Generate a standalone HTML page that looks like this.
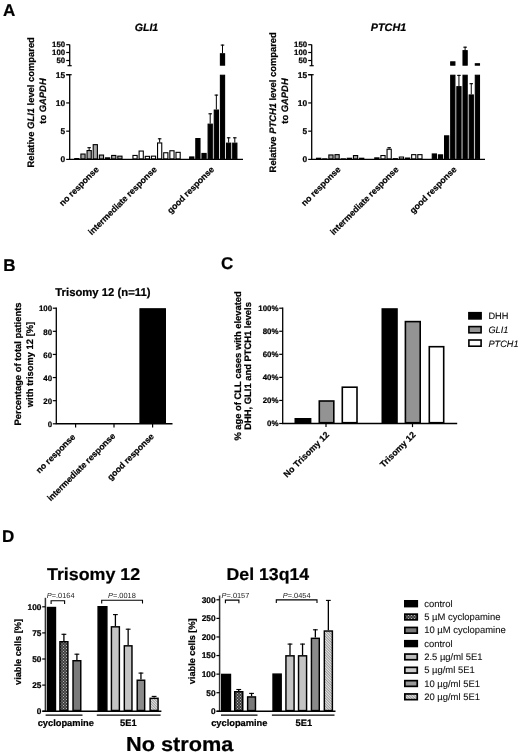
<!DOCTYPE html>
<html><head><meta charset="utf-8"><style>
html,body{margin:0;padding:0;background:#fff;}
svg{display:block;font-family:"Liberation Sans", sans-serif;filter:grayscale(1);text-rendering:geometricPrecision;}
text[font-weight=bold]{stroke:#000;stroke-width:0.22px;}
text[font-weight=normal]{stroke:#111;stroke-width:0.1px;}
</style></head><body>
<svg width="520" height="755" viewBox="0 0 520 755">
<rect width="520" height="755" fill="#fff"/>
<text x="3.0" y="15.6" font-size="17" font-weight="bold" font-style="normal" text-anchor="start" fill="#000">A</text>
<text x="3.2" y="271.0" font-size="17" font-weight="bold" font-style="normal" text-anchor="start" fill="#000">B</text>
<text x="221.0" y="268.6" font-size="17" font-weight="bold" font-style="normal" text-anchor="start" fill="#000">C</text>
<text x="2.0" y="541.6" font-size="17" font-weight="bold" font-style="normal" text-anchor="start" fill="#000">D</text>
<text x="146.5" y="31.3" font-size="10.6" font-weight="bold" font-style="italic" text-anchor="middle" fill="#000">GLI1</text>
<text x="34.1" y="102.3" font-size="9.4" font-weight="bold" text-anchor="middle" transform="rotate(-90 34.1 102.3)">Relative <tspan font-style="italic">GLI1</tspan> level compared</text>
<text x="46.2" y="101.0" font-size="9.4" font-weight="bold" text-anchor="middle" transform="rotate(-90 46.2 101.0)">to <tspan font-style="italic">GAPDH</tspan></text>
<line x1="69.7" y1="44.4" x2="69.7" y2="65.7" stroke="#000" stroke-width="1.3"/>
<line x1="67.5" y1="65.7" x2="71.7" y2="65.7" stroke="#000" stroke-width="1.2"/>
<line x1="69.7" y1="74.7" x2="69.7" y2="159.4" stroke="#000" stroke-width="1.3"/>
<line x1="66.2" y1="74.7" x2="71.7" y2="74.7" stroke="#000" stroke-width="1.2"/>
<line x1="69.10000000000001" y1="159.4" x2="243" y2="159.4" stroke="#000" stroke-width="1.4"/>
<line x1="66.2" y1="159.4" x2="69.7" y2="159.4" stroke="#000" stroke-width="1.2"/>
<text x="65.10000000000001" y="162.3" font-size="8.4" font-weight="bold" font-style="normal" text-anchor="end" fill="#000">0</text>
<line x1="66.2" y1="131.16666666666669" x2="69.7" y2="131.16666666666669" stroke="#000" stroke-width="1.2"/>
<text x="65.10000000000001" y="134.0666666666667" font-size="8.4" font-weight="bold" font-style="normal" text-anchor="end" fill="#000">5</text>
<line x1="66.2" y1="102.93333333333334" x2="69.7" y2="102.93333333333334" stroke="#000" stroke-width="1.2"/>
<text x="65.10000000000001" y="105.83333333333334" font-size="8.4" font-weight="bold" font-style="normal" text-anchor="end" fill="#000">10</text>
<line x1="66.2" y1="74.7" x2="69.7" y2="74.7" stroke="#000" stroke-width="1.2"/>
<text x="65.10000000000001" y="77.60000000000001" font-size="8.4" font-weight="bold" font-style="normal" text-anchor="end" fill="#000">15</text>
<line x1="66.2" y1="44.699999999999996" x2="69.7" y2="44.699999999999996" stroke="#000" stroke-width="1.2"/>
<text x="65.10000000000001" y="47.4" font-size="7.8" font-weight="bold" font-style="normal" text-anchor="end" fill="#000">150</text>
<line x1="66.2" y1="52.5" x2="69.7" y2="52.5" stroke="#000" stroke-width="1.2"/>
<text x="65.10000000000001" y="55.2" font-size="7.8" font-weight="bold" font-style="normal" text-anchor="end" fill="#000">100</text>
<line x1="66.2" y1="60.5" x2="69.7" y2="60.5" stroke="#000" stroke-width="1.2"/>
<text x="65.10000000000001" y="63.2" font-size="7.8" font-weight="bold" font-style="normal" text-anchor="end" fill="#000">50</text>
<rect x="74.75" y="158.55" width="4.20" height="0.30" fill="#a8a8a8" stroke="#000" stroke-width="1.1"/>
<rect x="80.90" y="154.05" width="4.20" height="4.80" fill="#a8a8a8" stroke="#000" stroke-width="1.1"/>
<rect x="87.05" y="150.55" width="4.20" height="8.30" fill="#a8a8a8" stroke="#000" stroke-width="1.1"/>
<line x1="89.15" y1="150" x2="89.15" y2="147.2" stroke="#000" stroke-width="1.0"/>
<line x1="87.4" y1="147.7" x2="90.9" y2="147.7" stroke="#000" stroke-width="1.1"/>
<rect x="93.20" y="144.65" width="4.20" height="14.20" fill="#a8a8a8" stroke="#000" stroke-width="1.1"/>
<rect x="99.35" y="155.05" width="4.20" height="3.80" fill="#a8a8a8" stroke="#000" stroke-width="1.1"/>
<rect x="105.50" y="157.85" width="4.20" height="1.00" fill="#a8a8a8" stroke="#000" stroke-width="1.1"/>
<rect x="111.65" y="155.45" width="4.20" height="3.40" fill="#a8a8a8" stroke="#000" stroke-width="1.1"/>
<rect x="117.80" y="156.15" width="4.20" height="2.70" fill="#a8a8a8" stroke="#000" stroke-width="1.1"/>
<rect x="132.95" y="155.45" width="4.20" height="3.40" fill="#fff" stroke="#000" stroke-width="1.1"/>
<rect x="139.10" y="151.05" width="4.20" height="7.80" fill="#fff" stroke="#000" stroke-width="1.1"/>
<rect x="145.25" y="156.35" width="4.20" height="2.50" fill="#fff" stroke="#000" stroke-width="1.1"/>
<rect x="151.40" y="156.15" width="4.20" height="2.70" fill="#fff" stroke="#000" stroke-width="1.1"/>
<rect x="157.55" y="142.95" width="4.20" height="15.90" fill="#fff" stroke="#000" stroke-width="1.1"/>
<line x1="159.65" y1="142.4" x2="159.65" y2="138.3" stroke="#000" stroke-width="1.0"/>
<line x1="157.9" y1="138.8" x2="161.4" y2="138.8" stroke="#000" stroke-width="1.1"/>
<rect x="163.70" y="152.75" width="4.20" height="6.10" fill="#fff" stroke="#000" stroke-width="1.1"/>
<rect x="169.85" y="150.75" width="4.20" height="8.10" fill="#fff" stroke="#000" stroke-width="1.1"/>
<rect x="176.00" y="152.35" width="4.20" height="6.50" fill="#fff" stroke="#000" stroke-width="1.1"/>
<rect x="189.65" y="156.95" width="4.20" height="1.90" fill="#000" stroke="#000" stroke-width="1.1"/>
<rect x="195.80" y="138.55" width="4.20" height="20.30" fill="#000" stroke="#000" stroke-width="1.1"/>
<rect x="201.95" y="153.45" width="4.20" height="5.40" fill="#000" stroke="#000" stroke-width="1.1"/>
<rect x="208.10" y="124.15" width="4.20" height="34.70" fill="#000" stroke="#000" stroke-width="1.1"/>
<line x1="210.20000000000002" y1="123.6" x2="210.20000000000002" y2="113.3" stroke="#000" stroke-width="1.0"/>
<line x1="208.45000000000002" y1="113.8" x2="211.95000000000002" y2="113.8" stroke="#000" stroke-width="1.1"/>
<rect x="214.25" y="110.05" width="4.20" height="48.80" fill="#000" stroke="#000" stroke-width="1.1"/>
<line x1="216.35" y1="109.5" x2="216.35" y2="94.6" stroke="#000" stroke-width="1.0"/>
<line x1="214.6" y1="95.1" x2="218.1" y2="95.1" stroke="#000" stroke-width="1.1"/>
<rect x="220.40" y="75.25" width="4.20" height="83.60" fill="#000" stroke="#000" stroke-width="1.1"/>
<rect x="220.40" y="53.75" width="4.20" height="11.40" fill="#000" stroke="#000" stroke-width="1.1"/>
<line x1="222.5" y1="53.2" x2="222.5" y2="44.6" stroke="#000" stroke-width="1.0"/>
<line x1="220.75" y1="45.1" x2="224.25" y2="45.1" stroke="#000" stroke-width="1.1"/>
<rect x="226.55" y="143.15" width="4.20" height="15.70" fill="#000" stroke="#000" stroke-width="1.1"/>
<line x1="228.65" y1="142.6" x2="228.65" y2="137.3" stroke="#000" stroke-width="1.0"/>
<line x1="226.9" y1="137.8" x2="230.4" y2="137.8" stroke="#000" stroke-width="1.1"/>
<rect x="232.70" y="143.15" width="4.20" height="15.70" fill="#000" stroke="#000" stroke-width="1.1"/>
<line x1="234.8" y1="142.6" x2="234.8" y2="137.3" stroke="#000" stroke-width="1.0"/>
<line x1="233.05" y1="137.8" x2="236.55" y2="137.8" stroke="#000" stroke-width="1.1"/>
<text x="388.5" y="31.3" font-size="10.8" font-weight="bold" font-style="italic" text-anchor="middle" fill="#000">PTCH1</text>
<text x="276.5" y="102.3" font-size="9.4" font-weight="bold" text-anchor="middle" transform="rotate(-90 276.5 102.3)">Relative <tspan font-style="italic">PTCH1</tspan> level compared</text>
<text x="288.0" y="101.0" font-size="9.4" font-weight="bold" text-anchor="middle" transform="rotate(-90 288.0 101.0)">to <tspan font-style="italic">GAPDH</tspan></text>
<line x1="311.7" y1="44.4" x2="311.7" y2="65.7" stroke="#000" stroke-width="1.3"/>
<line x1="309.5" y1="65.7" x2="313.7" y2="65.7" stroke="#000" stroke-width="1.2"/>
<line x1="311.7" y1="74.7" x2="311.7" y2="159.4" stroke="#000" stroke-width="1.3"/>
<line x1="308.2" y1="74.7" x2="313.7" y2="74.7" stroke="#000" stroke-width="1.2"/>
<line x1="311.09999999999997" y1="159.4" x2="485" y2="159.4" stroke="#000" stroke-width="1.4"/>
<line x1="308.2" y1="159.4" x2="311.7" y2="159.4" stroke="#000" stroke-width="1.2"/>
<text x="307.09999999999997" y="162.3" font-size="8.4" font-weight="bold" font-style="normal" text-anchor="end" fill="#000">0</text>
<line x1="308.2" y1="131.16666666666669" x2="311.7" y2="131.16666666666669" stroke="#000" stroke-width="1.2"/>
<text x="307.09999999999997" y="134.0666666666667" font-size="8.4" font-weight="bold" font-style="normal" text-anchor="end" fill="#000">5</text>
<line x1="308.2" y1="102.93333333333334" x2="311.7" y2="102.93333333333334" stroke="#000" stroke-width="1.2"/>
<text x="307.09999999999997" y="105.83333333333334" font-size="8.4" font-weight="bold" font-style="normal" text-anchor="end" fill="#000">10</text>
<line x1="308.2" y1="74.7" x2="311.7" y2="74.7" stroke="#000" stroke-width="1.2"/>
<text x="307.09999999999997" y="77.60000000000001" font-size="8.4" font-weight="bold" font-style="normal" text-anchor="end" fill="#000">15</text>
<line x1="308.2" y1="44.699999999999996" x2="311.7" y2="44.699999999999996" stroke="#000" stroke-width="1.2"/>
<text x="307.09999999999997" y="47.4" font-size="7.8" font-weight="bold" font-style="normal" text-anchor="end" fill="#000">150</text>
<line x1="308.2" y1="52.5" x2="311.7" y2="52.5" stroke="#000" stroke-width="1.2"/>
<text x="307.09999999999997" y="55.2" font-size="7.8" font-weight="bold" font-style="normal" text-anchor="end" fill="#000">100</text>
<line x1="308.2" y1="60.5" x2="311.7" y2="60.5" stroke="#000" stroke-width="1.2"/>
<text x="307.09999999999997" y="63.2" font-size="7.8" font-weight="bold" font-style="normal" text-anchor="end" fill="#000">50</text>
<rect x="316.55" y="158.25" width="4.20" height="0.60" fill="#a8a8a8" stroke="#000" stroke-width="1.1"/>
<rect x="322.70" y="158.85" width="4.20" height="0.10" fill="#a8a8a8" stroke="#000" stroke-width="1.1"/>
<rect x="328.85" y="154.95" width="4.20" height="3.90" fill="#a8a8a8" stroke="#000" stroke-width="1.1"/>
<rect x="335.00" y="154.65" width="4.20" height="4.20" fill="#a8a8a8" stroke="#000" stroke-width="1.1"/>
<rect x="341.15" y="158.85" width="4.20" height="0.10" fill="#a8a8a8" stroke="#000" stroke-width="1.1"/>
<rect x="347.30" y="158.25" width="4.20" height="0.60" fill="#a8a8a8" stroke="#000" stroke-width="1.1"/>
<rect x="353.45" y="155.55" width="4.20" height="3.30" fill="#a8a8a8" stroke="#000" stroke-width="1.1"/>
<rect x="359.60" y="158.25" width="4.20" height="0.60" fill="#a8a8a8" stroke="#000" stroke-width="1.1"/>
<rect x="374.75" y="157.85" width="4.20" height="1.00" fill="#fff" stroke="#000" stroke-width="1.1"/>
<rect x="380.90" y="155.55" width="4.20" height="3.30" fill="#fff" stroke="#000" stroke-width="1.1"/>
<rect x="387.05" y="149.25" width="4.20" height="9.60" fill="#fff" stroke="#000" stroke-width="1.1"/>
<line x1="389.15" y1="148.7" x2="389.15" y2="147.2" stroke="#000" stroke-width="1.0"/>
<line x1="387.4" y1="147.7" x2="390.9" y2="147.7" stroke="#000" stroke-width="1.1"/>
<rect x="393.20" y="158.65" width="4.20" height="0.20" fill="#fff" stroke="#000" stroke-width="1.1"/>
<rect x="399.35" y="157.05" width="4.20" height="1.80" fill="#fff" stroke="#000" stroke-width="1.1"/>
<rect x="405.50" y="158.05" width="4.20" height="0.80" fill="#fff" stroke="#000" stroke-width="1.1"/>
<rect x="411.65" y="154.65" width="4.20" height="4.20" fill="#fff" stroke="#000" stroke-width="1.1"/>
<rect x="417.80" y="154.65" width="4.20" height="4.20" fill="#fff" stroke="#000" stroke-width="1.1"/>
<rect x="432.25" y="153.95" width="4.20" height="4.90" fill="#000" stroke="#000" stroke-width="1.1"/>
<rect x="438.40" y="154.85" width="4.20" height="4.00" fill="#000" stroke="#000" stroke-width="1.1"/>
<rect x="444.55" y="135.85" width="4.20" height="23.00" fill="#000" stroke="#000" stroke-width="1.1"/>
<rect x="450.70" y="75.25" width="4.20" height="83.60" fill="#000" stroke="#000" stroke-width="1.1"/>
<rect x="450.70" y="61.85" width="4.20" height="3.30" fill="#000" stroke="#000" stroke-width="1.1"/>
<rect x="456.85" y="86.65" width="4.20" height="72.20" fill="#000" stroke="#000" stroke-width="1.1"/>
<line x1="458.95" y1="86.1" x2="458.95" y2="74.9" stroke="#000" stroke-width="1.0"/>
<line x1="457.2" y1="75.4" x2="460.7" y2="75.4" stroke="#000" stroke-width="1.1"/>
<rect x="463.00" y="75.25" width="4.20" height="83.60" fill="#000" stroke="#000" stroke-width="1.1"/>
<rect x="463.00" y="50.65" width="4.20" height="14.50" fill="#000" stroke="#000" stroke-width="1.1"/>
<line x1="465.09999999999997" y1="50.1" x2="465.09999999999997" y2="46.7" stroke="#000" stroke-width="1.0"/>
<line x1="463.34999999999997" y1="47.2" x2="466.84999999999997" y2="47.2" stroke="#000" stroke-width="1.1"/>
<rect x="469.15" y="94.95" width="4.20" height="63.90" fill="#000" stroke="#000" stroke-width="1.1"/>
<line x1="471.25" y1="94.4" x2="471.25" y2="83.2" stroke="#000" stroke-width="1.0"/>
<line x1="469.5" y1="83.7" x2="473.0" y2="83.7" stroke="#000" stroke-width="1.1"/>
<rect x="475.30" y="75.25" width="4.20" height="83.60" fill="#000" stroke="#000" stroke-width="1.1"/>
<rect x="475.30" y="63.75" width="4.20" height="1.40" fill="#000" stroke="#000" stroke-width="1.1"/>
<text x="99.4" y="170.0" font-size="8.7" font-weight="bold" text-anchor="end" transform="rotate(-45 99.4 170.0)">no response</text>
<text x="157.3" y="170.0" font-size="8.7" font-weight="bold" text-anchor="end" transform="rotate(-45 157.3 170.0)">intermediate response</text>
<text x="214.7" y="170.0" font-size="8.7" font-weight="bold" text-anchor="end" transform="rotate(-45 214.7 170.0)">good response</text>
<text x="341.2" y="170.0" font-size="8.7" font-weight="bold" text-anchor="end" transform="rotate(-45 341.2 170.0)">no response</text>
<text x="399.2" y="170.0" font-size="8.7" font-weight="bold" text-anchor="end" transform="rotate(-45 399.2 170.0)">intermediate response</text>
<text x="457.2" y="170.0" font-size="8.7" font-weight="bold" text-anchor="end" transform="rotate(-45 457.2 170.0)">good response</text>
<text x="102.9" y="295.7" font-size="11.3" font-weight="bold" font-style="normal" text-anchor="middle" fill="#000">Trisomy 12 (n=11)</text>
<text x="21.3" y="364" font-size="9.4" font-weight="bold" text-anchor="middle" transform="rotate(-90 21.3 364)">Percentage of total patients</text>
<text x="32.8" y="364.5" font-size="9.4" font-weight="bold" text-anchor="middle" transform="rotate(-90 32.8 364.5)">with trisomy 12 [%]</text>
<line x1="56.3" y1="307.59999999999997" x2="56.3" y2="423.8" stroke="#000" stroke-width="1.3"/>
<line x1="55.699999999999996" y1="423.8" x2="172.5" y2="423.8" stroke="#000" stroke-width="1.4"/>
<line x1="52.8" y1="423.8" x2="56.3" y2="423.8" stroke="#000" stroke-width="1.2"/>
<text x="52.099999999999994" y="427.0" font-size="7.9" font-weight="bold" font-style="normal" text-anchor="end" fill="#000">0</text>
<line x1="52.8" y1="400.68" x2="56.3" y2="400.68" stroke="#000" stroke-width="1.2"/>
<text x="52.099999999999994" y="403.88" font-size="7.9" font-weight="bold" font-style="normal" text-anchor="end" fill="#000">20</text>
<line x1="52.8" y1="377.56" x2="56.3" y2="377.56" stroke="#000" stroke-width="1.2"/>
<text x="52.099999999999994" y="380.76" font-size="7.9" font-weight="bold" font-style="normal" text-anchor="end" fill="#000">40</text>
<line x1="52.8" y1="354.44" x2="56.3" y2="354.44" stroke="#000" stroke-width="1.2"/>
<text x="52.099999999999994" y="357.64" font-size="7.9" font-weight="bold" font-style="normal" text-anchor="end" fill="#000">60</text>
<line x1="52.8" y1="331.32" x2="56.3" y2="331.32" stroke="#000" stroke-width="1.2"/>
<text x="52.099999999999994" y="334.52" font-size="7.9" font-weight="bold" font-style="normal" text-anchor="end" fill="#000">80</text>
<line x1="52.8" y1="308.2" x2="56.3" y2="308.2" stroke="#000" stroke-width="1.2"/>
<text x="52.099999999999994" y="311.4" font-size="7.9" font-weight="bold" font-style="normal" text-anchor="end" fill="#000">100</text>
<line x1="75.6" y1="423.8" x2="75.6" y2="427.40000000000003" stroke="#000" stroke-width="1.2"/>
<line x1="114.0" y1="423.8" x2="114.0" y2="427.40000000000003" stroke="#000" stroke-width="1.2"/>
<line x1="152.6" y1="423.8" x2="152.6" y2="427.40000000000003" stroke="#000" stroke-width="1.2"/>
<rect x="139.95" y="308.75" width="25.50" height="114.50" fill="#000" stroke="#000" stroke-width="1.1"/>
<text x="75.9" y="437.5" font-size="8.65" font-weight="bold" text-anchor="end" transform="rotate(-45 75.9 437.5)">no response</text>
<text x="115.9" y="436.5" font-size="8.65" font-weight="bold" text-anchor="end" transform="rotate(-45 115.9 436.5)">intermediate response</text>
<text x="154.5" y="437.0" font-size="8.65" font-weight="bold" text-anchor="end" transform="rotate(-45 154.5 437.0)">good response</text>
<text x="241.3" y="365.9" font-size="9.4" font-weight="bold" text-anchor="middle" transform="rotate(-90 241.3 365.9)">% age of CLL cases with elevated</text>
<text x="250.8" y="365.9" font-size="9.4" font-weight="bold" text-anchor="middle" transform="rotate(-90 250.8 365.9)">DHH, GLI1 and PTCH1 levels</text>
<line x1="282.7" y1="307.59999999999997" x2="282.7" y2="423.5" stroke="#000" stroke-width="1.3"/>
<line x1="282.09999999999997" y1="423.5" x2="457.2" y2="423.5" stroke="#000" stroke-width="1.4"/>
<line x1="279.2" y1="423.5" x2="282.7" y2="423.5" stroke="#000" stroke-width="1.2"/>
<text x="278.5" y="426.3" font-size="7.9" font-weight="bold" font-style="normal" text-anchor="end" fill="#000">0%</text>
<line x1="279.2" y1="400.44" x2="282.7" y2="400.44" stroke="#000" stroke-width="1.2"/>
<text x="278.5" y="403.24" font-size="7.9" font-weight="bold" font-style="normal" text-anchor="end" fill="#000">20%</text>
<line x1="279.2" y1="377.38" x2="282.7" y2="377.38" stroke="#000" stroke-width="1.2"/>
<text x="278.5" y="380.18" font-size="7.9" font-weight="bold" font-style="normal" text-anchor="end" fill="#000">40%</text>
<line x1="279.2" y1="354.32" x2="282.7" y2="354.32" stroke="#000" stroke-width="1.2"/>
<text x="278.5" y="357.12" font-size="7.9" font-weight="bold" font-style="normal" text-anchor="end" fill="#000">60%</text>
<line x1="279.2" y1="331.26" x2="282.7" y2="331.26" stroke="#000" stroke-width="1.2"/>
<text x="278.5" y="334.06" font-size="7.9" font-weight="bold" font-style="normal" text-anchor="end" fill="#000">80%</text>
<line x1="279.2" y1="308.2" x2="282.7" y2="308.2" stroke="#000" stroke-width="1.2"/>
<text x="278.5" y="311.0" font-size="7.9" font-weight="bold" font-style="normal" text-anchor="end" fill="#000">100%</text>
<line x1="326.0" y1="423.5" x2="326.0" y2="427.1" stroke="#000" stroke-width="1.2"/>
<line x1="412.5" y1="423.5" x2="412.5" y2="427.1" stroke="#000" stroke-width="1.2"/>
<rect x="295.30" y="418.80" width="15.30" height="3.90" fill="#000" stroke="#000" stroke-width="1.6"/>
<rect x="319.30" y="401.00" width="14.50" height="21.70" fill="#939393" stroke="#000" stroke-width="1.6"/>
<rect x="342.30" y="387.20" width="14.70" height="35.50" fill="#fff" stroke="#000" stroke-width="1.6"/>
<rect x="382.30" y="309.00" width="14.70" height="113.70" fill="#000" stroke="#000" stroke-width="1.6"/>
<rect x="405.40" y="321.60" width="14.80" height="101.10" fill="#939393" stroke="#000" stroke-width="1.6"/>
<rect x="429.30" y="346.70" width="14.40" height="76.00" fill="#fff" stroke="#000" stroke-width="1.6"/>
<rect x="468.90" y="312.70" width="12.20" height="6.20" fill="#000" stroke="#000" stroke-width="1.6"/>
<text x="488.4" y="319.2" font-size="9.2" font-weight="normal" font-style="normal" text-anchor="start" fill="#000">DHH</text>
<rect x="468.90" y="326.60" width="12.20" height="6.20" fill="#939393" stroke="#000" stroke-width="1.6"/>
<text x="488.4" y="333.1" font-size="9.2" font-weight="normal" font-style="italic" text-anchor="start" fill="#000">GLI1</text>
<rect x="468.90" y="340.00" width="12.20" height="6.20" fill="#fff" stroke="#000" stroke-width="1.6"/>
<text x="488.4" y="346.5" font-size="9.2" font-weight="normal" font-style="italic" text-anchor="start" fill="#000">PTCH1</text>
<text x="329.6" y="435.4" font-size="8.8" font-weight="bold" text-anchor="end" transform="rotate(-45 329.6 435.4)">No Trisomy 12</text>
<text x="416.1" y="435.4" font-size="8.8" font-weight="bold" text-anchor="end" transform="rotate(-45 416.1 435.4)">Trisomy 12</text>
<defs>
<pattern id="chk" width="3" height="3" patternUnits="userSpaceOnUse"><rect width="3" height="3" fill="#404040"/><rect width="1" height="1" fill="#b8b8b8"/><rect x="1.5" y="1.5" width="1" height="1" fill="#a8a8a8"/></pattern>
<pattern id="hat" width="1.9" height="1.9" patternUnits="userSpaceOnUse" patternTransform="rotate(-45)"><rect width="1.9" height="1.9" fill="#e6e6e6"/><rect width="0.8" height="1.9" fill="#8a8a8a"/></pattern>
</defs>
<text x="47.0" y="579.7" font-size="17.2" font-weight="bold" font-style="normal" text-anchor="start" fill="#000" textLength="93.2" lengthAdjust="spacingAndGlyphs">Trisomy 12</text>
<text x="226.6" y="579.7" font-size="17.2" font-weight="bold" font-style="normal" text-anchor="start" fill="#000" textLength="82.6" lengthAdjust="spacingAndGlyphs">Del 13q14</text>
<line x1="45.4" y1="597.8" x2="45.4" y2="711.2" stroke="#333" stroke-width="1.5"/>
<line x1="42.4" y1="711.2" x2="161.4" y2="711.2" stroke="#000" stroke-width="1.4"/>
<line x1="42.199999999999996" y1="711.2" x2="45.4" y2="711.2" stroke="#000" stroke-width="1.2"/>
<text x="41.4" y="714.1" font-size="8.3" font-weight="bold" font-style="normal" text-anchor="end" fill="#000">0</text>
<line x1="42.199999999999996" y1="685.1" x2="45.4" y2="685.1" stroke="#000" stroke-width="1.2"/>
<text x="41.4" y="688.0" font-size="8.3" font-weight="bold" font-style="normal" text-anchor="end" fill="#000">25</text>
<line x1="42.199999999999996" y1="659.0" x2="45.4" y2="659.0" stroke="#000" stroke-width="1.2"/>
<text x="41.4" y="661.9" font-size="8.3" font-weight="bold" font-style="normal" text-anchor="end" fill="#000">50</text>
<line x1="42.199999999999996" y1="632.9" x2="45.4" y2="632.9" stroke="#000" stroke-width="1.2"/>
<text x="41.4" y="635.8" font-size="8.3" font-weight="bold" font-style="normal" text-anchor="end" fill="#000">75</text>
<line x1="42.199999999999996" y1="606.8" x2="45.4" y2="606.8" stroke="#000" stroke-width="1.2"/>
<text x="41.4" y="609.6999999999999" font-size="8.3" font-weight="bold" font-style="normal" text-anchor="end" fill="#000">100</text>
<rect x="47.52" y="607.52" width="7.95" height="102.95" fill="#000" stroke="#000" stroke-width="1.45"/>
<rect x="59.93" y="641.73" width="7.95" height="68.75" fill="url(#chk)" stroke="#000" stroke-width="1.45"/>
<line x1="63.9" y1="641.0" x2="63.9" y2="633.8" stroke="#000" stroke-width="1.3"/>
<line x1="61.5" y1="634.3" x2="66.3" y2="634.3" stroke="#000" stroke-width="1.1"/>
<rect x="73.02" y="660.73" width="7.75" height="49.75" fill="#7a7a7a" stroke="#000" stroke-width="1.45"/>
<line x1="76.9" y1="660.0" x2="76.9" y2="653.7" stroke="#000" stroke-width="1.3"/>
<line x1="74.5" y1="654.2" x2="79.30000000000001" y2="654.2" stroke="#000" stroke-width="1.1"/>
<rect x="98.12" y="606.73" width="8.75" height="103.75" fill="#000" stroke="#000" stroke-width="1.45"/>
<rect x="111.42" y="626.83" width="7.95" height="83.65" fill="#c4c4c4" stroke="#000" stroke-width="1.45"/>
<line x1="115.4" y1="626.1" x2="115.4" y2="614.1" stroke="#000" stroke-width="1.3"/>
<line x1="113.0" y1="614.6" x2="117.80000000000001" y2="614.6" stroke="#000" stroke-width="1.1"/>
<rect x="124.32" y="645.83" width="7.65" height="64.65" fill="#c4c4c4" stroke="#000" stroke-width="1.45"/>
<line x1="128.14999999999998" y1="645.1" x2="128.14999999999998" y2="628.7" stroke="#000" stroke-width="1.3"/>
<line x1="125.74999999999997" y1="629.2" x2="130.54999999999998" y2="629.2" stroke="#000" stroke-width="1.1"/>
<rect x="137.22" y="680.23" width="7.45" height="30.25" fill="#8a8a8a" stroke="#000" stroke-width="1.45"/>
<line x1="140.95" y1="679.5" x2="140.95" y2="672.6" stroke="#000" stroke-width="1.3"/>
<line x1="138.54999999999998" y1="673.1" x2="143.35" y2="673.1" stroke="#000" stroke-width="1.1"/>
<rect x="150.12" y="698.33" width="7.95" height="12.15" fill="url(#hat)" stroke="#000" stroke-width="1.45"/>
<line x1="154.10000000000002" y1="697.6" x2="154.10000000000002" y2="695.9" stroke="#000" stroke-width="1.3"/>
<line x1="151.70000000000002" y1="696.4" x2="156.50000000000003" y2="696.4" stroke="#000" stroke-width="1.1"/>
<line x1="45.6" y1="715.2" x2="82.5" y2="715.2" stroke="#000" stroke-width="1.3"/>
<line x1="96.8" y1="715.2" x2="160.6" y2="715.2" stroke="#000" stroke-width="1.3"/>
<text x="65.8" y="725.6" font-size="9.3" font-weight="bold" font-style="normal" text-anchor="middle" fill="#000">cyclopamine</text>
<text x="128.3" y="725.6" font-size="9.3" font-weight="bold" font-style="normal" text-anchor="middle" fill="#000">5E1</text>
<text x="20.8" y="652.0" font-size="9.2" font-weight="bold" text-anchor="middle" transform="rotate(-90 20.8 652.0)">viable cells [%]</text>
<text x="46.8" y="597.8" font-size="7.4" fill="#222"><tspan font-style="italic">P</tspan>=.0164</text>
<path d="M51.1 603.9000000000001 V600.7 H64.6 V603.9000000000001" fill="none" stroke="#000" stroke-width="1.1"/>
<text x="108.0" y="598.3" font-size="7.4" fill="#222"><tspan font-style="italic">P</tspan>=.0018</text>
<path d="M101.7 603.5 V600.3 H142.5 V603.5" fill="none" stroke="#000" stroke-width="1.1"/>
<line x1="219.6" y1="595.5" x2="219.6" y2="711.3" stroke="#333" stroke-width="1.5"/>
<line x1="216.6" y1="711.3" x2="335.5" y2="711.3" stroke="#000" stroke-width="1.4"/>
<line x1="216.4" y1="711.3" x2="219.6" y2="711.3" stroke="#000" stroke-width="1.2"/>
<text x="215.6" y="714.1999999999999" font-size="8.3" font-weight="bold" font-style="normal" text-anchor="end" fill="#000">0</text>
<line x1="216.4" y1="692.7166666666666" x2="219.6" y2="692.7166666666666" stroke="#000" stroke-width="1.2"/>
<text x="215.6" y="695.6166666666666" font-size="8.3" font-weight="bold" font-style="normal" text-anchor="end" fill="#000">50</text>
<line x1="216.4" y1="674.1333333333333" x2="219.6" y2="674.1333333333333" stroke="#000" stroke-width="1.2"/>
<text x="215.6" y="677.0333333333333" font-size="8.3" font-weight="bold" font-style="normal" text-anchor="end" fill="#000">100</text>
<line x1="216.4" y1="655.55" x2="219.6" y2="655.55" stroke="#000" stroke-width="1.2"/>
<text x="215.6" y="658.4499999999999" font-size="8.3" font-weight="bold" font-style="normal" text-anchor="end" fill="#000">150</text>
<line x1="216.4" y1="636.9666666666666" x2="219.6" y2="636.9666666666666" stroke="#000" stroke-width="1.2"/>
<text x="215.6" y="639.8666666666666" font-size="8.3" font-weight="bold" font-style="normal" text-anchor="end" fill="#000">200</text>
<line x1="216.4" y1="618.3833333333333" x2="219.6" y2="618.3833333333333" stroke="#000" stroke-width="1.2"/>
<text x="215.6" y="621.2833333333333" font-size="8.3" font-weight="bold" font-style="normal" text-anchor="end" fill="#000">250</text>
<line x1="216.4" y1="599.8" x2="219.6" y2="599.8" stroke="#000" stroke-width="1.2"/>
<text x="215.6" y="602.6999999999999" font-size="8.3" font-weight="bold" font-style="normal" text-anchor="end" fill="#000">300</text>
<rect x="221.72" y="674.43" width="8.75" height="36.15" fill="#000" stroke="#000" stroke-width="1.45"/>
<rect x="234.72" y="691.73" width="8.05" height="18.85" fill="url(#chk)" stroke="#000" stroke-width="1.45"/>
<line x1="238.75" y1="691.0" x2="238.75" y2="689.0" stroke="#000" stroke-width="1.3"/>
<line x1="236.35" y1="689.5" x2="241.15" y2="689.5" stroke="#000" stroke-width="1.1"/>
<rect x="247.62" y="696.93" width="7.85" height="13.65" fill="#7a7a7a" stroke="#000" stroke-width="1.45"/>
<line x1="251.55" y1="696.2" x2="251.55" y2="692.9" stroke="#000" stroke-width="1.3"/>
<line x1="249.15" y1="693.4" x2="253.95000000000002" y2="693.4" stroke="#000" stroke-width="1.1"/>
<rect x="273.03" y="674.12" width="8.15" height="36.45" fill="#000" stroke="#000" stroke-width="1.45"/>
<rect x="285.93" y="655.83" width="8.15" height="54.75" fill="#c4c4c4" stroke="#000" stroke-width="1.45"/>
<line x1="290.0" y1="655.1" x2="290.0" y2="643.6" stroke="#000" stroke-width="1.3"/>
<line x1="287.6" y1="644.1" x2="292.4" y2="644.1" stroke="#000" stroke-width="1.1"/>
<rect x="298.53" y="655.83" width="8.05" height="54.75" fill="#c4c4c4" stroke="#000" stroke-width="1.45"/>
<line x1="302.55" y1="655.1" x2="302.55" y2="643.6" stroke="#000" stroke-width="1.3"/>
<line x1="300.15000000000003" y1="644.1" x2="304.95" y2="644.1" stroke="#000" stroke-width="1.1"/>
<rect x="311.43" y="638.33" width="7.85" height="72.25" fill="#8a8a8a" stroke="#000" stroke-width="1.45"/>
<line x1="315.35" y1="637.6" x2="315.35" y2="629.3" stroke="#000" stroke-width="1.3"/>
<line x1="312.95000000000005" y1="629.8" x2="317.75" y2="629.8" stroke="#000" stroke-width="1.1"/>
<rect x="324.33" y="631.02" width="8.05" height="79.55" fill="url(#hat)" stroke="#000" stroke-width="1.45"/>
<line x1="328.35" y1="630.3" x2="328.35" y2="599.9" stroke="#000" stroke-width="1.3"/>
<line x1="325.95000000000005" y1="600.4" x2="330.75" y2="600.4" stroke="#000" stroke-width="1.1"/>
<line x1="221.0" y1="715.2" x2="257.5" y2="715.2" stroke="#000" stroke-width="1.3"/>
<line x1="271.9" y1="715.2" x2="334.5" y2="715.2" stroke="#000" stroke-width="1.3"/>
<text x="239.3" y="725.6" font-size="9.3" font-weight="bold" font-style="normal" text-anchor="middle" fill="#000">cyclopamine</text>
<text x="303.8" y="725.6" font-size="9.3" font-weight="bold" font-style="normal" text-anchor="middle" fill="#000">5E1</text>
<text x="194.8" y="651.3" font-size="9.2" font-weight="bold" text-anchor="middle" transform="rotate(-90 194.8 651.3)">viable cells [%]</text>
<text x="221.6" y="598.0" font-size="7.4" fill="#222"><tspan font-style="italic">P</tspan>=.0157</text>
<path d="M225.4 603.3000000000001 V600.1 H238.9 V603.3000000000001" fill="none" stroke="#000" stroke-width="1.1"/>
<text x="282.8" y="597.5" font-size="7.4" fill="#222"><tspan font-style="italic">P</tspan>=.0454</text>
<path d="M276.3 603.1 V599.9 H317.0 V603.1" fill="none" stroke="#000" stroke-width="1.1"/>
<rect x="404.85" y="600.85" width="12.40" height="5.70" fill="#000" stroke="#000" stroke-width="1.7"/>
<text x="424.2" y="606.8" font-size="9.45" font-weight="normal" font-style="normal" text-anchor="start" fill="#111">control</text>
<rect x="404.85" y="614.15" width="12.40" height="5.70" fill="url(#chk)" stroke="#000" stroke-width="1.7"/>
<text x="424.2" y="620.0999999999999" font-size="9.45" font-weight="normal" font-style="normal" text-anchor="start" fill="#111">5 µM cyclopamine</text>
<rect x="404.85" y="627.45" width="12.40" height="5.70" fill="#7a7a7a" stroke="#000" stroke-width="1.7"/>
<text x="424.2" y="633.4" font-size="9.45" font-weight="normal" font-style="normal" text-anchor="start" fill="#111">10 µM cyclopamine</text>
<rect x="404.85" y="640.75" width="12.40" height="5.70" fill="#000" stroke="#000" stroke-width="1.7"/>
<text x="424.2" y="646.6999999999999" font-size="9.45" font-weight="normal" font-style="normal" text-anchor="start" fill="#111">control</text>
<rect x="404.85" y="654.05" width="12.40" height="5.70" fill="#bdbdbd" stroke="#000" stroke-width="1.7"/>
<text x="424.2" y="660.0" font-size="9.45" font-weight="normal" font-style="normal" text-anchor="start" fill="#111">2.5 µg/ml 5E1</text>
<rect x="404.85" y="667.35" width="12.40" height="5.70" fill="#cdcdcd" stroke="#000" stroke-width="1.7"/>
<text x="424.2" y="673.3" font-size="9.45" font-weight="normal" font-style="normal" text-anchor="start" fill="#111">5 µg/ml 5E1</text>
<rect x="404.85" y="680.65" width="12.40" height="5.70" fill="#999" stroke="#000" stroke-width="1.7"/>
<text x="424.2" y="686.5999999999999" font-size="9.45" font-weight="normal" font-style="normal" text-anchor="start" fill="#111">10 µg/ml 5E1</text>
<rect x="404.85" y="693.95" width="12.40" height="5.70" fill="url(#hat)" stroke="#000" stroke-width="1.7"/>
<text x="424.2" y="699.9" font-size="9.45" font-weight="normal" font-style="normal" text-anchor="start" fill="#111">20 µg/ml 5E1</text>
<text x="126.0" y="750.5" font-size="20.2" font-weight="bold" font-style="normal" text-anchor="start" fill="#000" textLength="107.4" lengthAdjust="spacingAndGlyphs">No stroma</text>
</svg>
</body></html>
